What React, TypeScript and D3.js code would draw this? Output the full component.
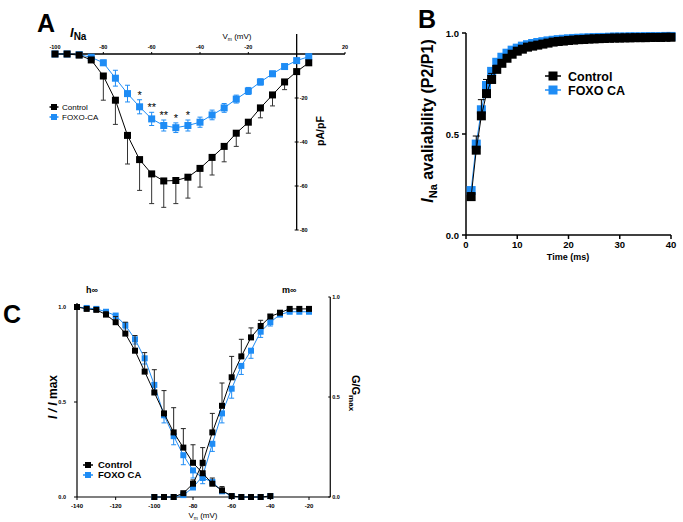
import React from "react";
import * as d3 from "d3";

const FONT = "'Liberation Sans', Arial, Helvetica, sans-serif";
const BLUE = "#1e8cf5";

// ---------- Panel A: I-V relationship ----------
const voltA = [-100, -95, -90, -85, -80, -75, -70, -65, -60, -55, -50, -45, -40, -35, -30, -25, -20, -15, -10, -5, 0, 5];
const ctrlA = [0, 0, -0.5, -2.7, -10, -21, -37, -48, -54.5, -57.7, -57.5, -56, -52, -47, -42, -36, -31, -24.5, -18.6, -12.7, -8, -4];
const ctrlAErr = [0, 0, 0.3, 0.5, 11, 11, 13, 14, 13.5, 12, 10.5, 9.5, 8.5, 8, 7, 6, 5, 4.5, 5, 3.5, 1, 0.5];
const foxoA = [0, 0, -0.3, -1.5, -4, -11, -18, -24, -29.5, -32.5, -33.5, -32.5, -31, -27.7, -24.5, -20.5, -16.8, -12.7, -9, -5.7, -3, -1.2];
const foxoAErr = [0, 0, 0.2, 0.5, 1.2, 3.6, 3.8, 3.2, 3, 2.5, 2.2, 2.5, 2.3, 2.2, 2, 1.8, 1.6, 1.4, 1.2, 1, 0.8, 0.5];
const starVolts = [-65, -60, -55, -50, -45];
const starText = ["*", "**", "**", "*", "*"];
const xTicksA = [-100, -80, -60, -40, -20, 20];
const yTicksA = [-20, -40, -60, -80];

// ---------- Panel B: recovery from inactivation ----------
const timeB = [1, 2, 3, 4, 5, 6, 7, 8, 9, 10, 11, 12, 13, 14, 15, 16, 17, 18, 19, 20, 21, 22, 23, 24, 25, 26, 27, 28, 29, 30, 31, 32, 33, 34, 35, 36, 37, 38, 39, 40];
const ctrlB = [0.19, 0.42, 0.59, 0.70, 0.77, 0.82, 0.85, 0.875, 0.895, 0.91, 0.92, 0.93, 0.935, 0.94, 0.945, 0.95, 0.955, 0.958, 0.96, 0.963, 0.965, 0.967, 0.968, 0.97, 0.971, 0.972, 0.973, 0.974, 0.975, 0.975, 0.976, 0.976, 0.977, 0.977, 0.977, 0.978, 0.978, 0.978, 0.979, 0.979];
const ctrlBErr = [0.02, 0.07, 0.08, 0.07, 0.03, 0.02, 0.015, 0.01, 0.01, 0.01, 0.01, 0.01, 0.01, 0.01, 0.01, 0.01, 0.01, 0.01, 0.01, 0.01, 0.01, 0.01, 0.01, 0.01, 0.01, 0.01, 0.01, 0.01, 0.01, 0.01, 0.01, 0.01, 0.01, 0.01, 0.01, 0.01, 0.01, 0.01, 0.01, 0.01];
const foxoB = [0.22, 0.45, 0.62, 0.74, 0.81, 0.855, 0.88, 0.90, 0.915, 0.925, 0.935, 0.942, 0.948, 0.953, 0.957, 0.961, 0.964, 0.967, 0.969, 0.971, 0.973, 0.974, 0.975, 0.976, 0.977, 0.978, 0.978, 0.979, 0.98, 0.98, 0.98, 0.981, 0.981, 0.981, 0.982, 0.982, 0.982, 0.982, 0.983, 0.983];
const foxoBErr = [0.03, 0.03, 0.03, 0.02, 0.02, 0.01, 0.01, 0.01, 0.01, 0.01, 0.01, 0.01, 0.01, 0.01, 0.01, 0.01, 0.01, 0.01, 0.01, 0.01, 0.01, 0.01, 0.01, 0.01, 0.01, 0.01, 0.01, 0.01, 0.01, 0.01, 0.01, 0.01, 0.01, 0.01, 0.01, 0.01, 0.01, 0.01, 0.01, 0.01];
const xTicksB = [0, 10, 20, 30, 40];
const yTicksB = [0, 0.5, 1.0];

// ---------- Panel C: steady-state inactivation / activation ----------
const voltH = [-140, -135, -130, -125, -120, -115, -110, -105, -100, -95, -90, -85, -80, -75, -70, -65, -60, -55, -50, -45, -40];
const ctrlH = [1.0, 0.99, 0.985, 0.96, 0.92, 0.86, 0.77, 0.66, 0.55, 0.44, 0.34, 0.26, 0.18, 0.125, 0.07, 0.035, 0.005, 0, 0, 0, 0.005];
const ctrlHErr = [0, 0, 0.005, 0.015, 0.03, 0.06, 0.08, 0.1, 0.12, 0.12, 0.13, 0.1, 0.095, 0.04, 0.03, 0.02, 0.005, 0, 0, 0, 0];
const foxoH = [1.0, 0.995, 0.99, 0.975, 0.955, 0.905, 0.83, 0.73, 0.59, 0.43, 0.32, 0.22, 0.14, 0.10, 0.08, 0.03, 0.005, 0, 0, 0, 0.005];
const foxoHErr = [0, 0, 0.005, 0.01, 0.015, 0.02, 0.025, 0.03, 0.035, 0.04, 0.045, 0.05, 0.04, 0.03, 0.02, 0.01, 0.005, 0, 0, 0, 0];
const voltM = [-100, -95, -90, -85, -80, -75, -70, -65, -60, -55, -50, -45, -40, -35, -30, -25, -20];
const ctrlM = [0, 0, 0, 0.02, 0.07, 0.18, 0.34, 0.48, 0.63, 0.74, 0.84, 0.90, 0.95, 0.97, 0.99, 0.99, 0.99];
const ctrlMErr = [0, 0, 0, 0.005, 0.02, 0.08, 0.1, 0.12, 0.11, 0.09, 0.05, 0.03, 0.01, 0.005, 0, 0, 0];
const foxoM = [0, 0, 0, 0.01, 0.05, 0.11, 0.28, 0.44, 0.57, 0.69, 0.77, 0.87, 0.92, 0.96, 0.975, 0.975, 0.975];
const foxoMErr = [0, 0, 0, 0, 0.01, 0.02, 0.04, 0.05, 0.05, 0.045, 0.04, 0.03, 0.02, 0.01, 0.005, 0, 0];
const xTicksC = [-140, -120, -100, -80, -60, -40, -20];
const yTicksC = [0, 0.5, 1.0];

type Scale = (v: number) => number;

function Series(props: {
  xs: number[]; ys: number[]; errs: number[]; dir: "up" | "down" | "both";
  x: Scale; y: Scale; color: string; size: number; lw?: number; errColor?: string; cap?: number;
}) {
  const { xs, ys, errs, dir, x, y, color, size, lw = 1, errColor, cap = 3 } = props;
  const line = d3.line<number>().x((_, i) => x(xs[i])).y((d) => y(d));
  const ec = errColor || color;
  return (
    <g>
      {ys.map((v, i) => {
        const e = errs[i];
        if (!e) return null;
        const cx = x(xs[i]);
        const segs: [number, number][] = [];
        if (dir === "up" || dir === "both") segs.push([y(v), y(v + e)]);
        if (dir === "down" || dir === "both") segs.push([y(v), y(v - e)]);
        return (
          <g key={"e" + i} stroke={ec} strokeWidth={1}>
            {segs.map((s, j) => (
              <g key={j}>
                <line x1={cx} x2={cx} y1={s[0]} y2={s[1]} />
                <line x1={cx - cap} x2={cx + cap} y1={s[1]} y2={s[1]} />
              </g>
            ))}
          </g>
        );
      })}
      <path d={line(ys) || ""} fill="none" stroke={color} strokeWidth={lw} />
      {ys.map((v, i) => (
        <rect key={"m" + i} x={x(xs[i]) - size / 2} y={y(v) - size / 2} width={size} height={size} fill={color} />
      ))}
    </g>
  );
}

function LegendItem(props: { x: number; y: number; color: string; size: number; half: number; label: string; fs: number; tx: number; bold?: boolean }) {
  const { x, y, color, size, half, label, fs, tx, bold } = props;
  return (
    <g>
      <line x1={x - half} x2={x + half} y1={y} y2={y} stroke={color} strokeWidth={1.5} />
      <rect x={x - size / 2} y={y - size / 2} width={size} height={size} fill={color} />
      <text x={tx} y={y + fs * 0.36} fontSize={fs} fontWeight={bold ? "bold" : "normal"} fill="#000">{label}</text>
    </g>
  );
}

export default function App() {
  // Panel A scales
  const xA = d3.scaleLinear().domain([-100, 20]).range([55, 345]);
  const yA = d3.scaleLinear().domain([0, -80]).range([54, 230]);
  // Panel B scales
  const xB = d3.scaleLinear().domain([0, 40]).range([466, 671]);
  const yB = d3.scaleLinear().domain([0, 1]).range([235, 33]);
  // Panel C scales
  const xC = d3.scaleLinear().domain([-140, -20]).range([77, 309]);
  const yC = d3.scaleLinear().domain([0, 1]).range([497, 307]);
  const yCR = d3.scaleLinear().domain([0, 1]).range([497, 297]);
  const rightAxisX = xC(-9);

  return (
    <svg width={683} height={522} style={{ position: "absolute", left: 0, top: 0, background: "#fff" }} fontFamily={FONT}>
      <rect width={683} height={522} fill="#fff" />

      {/* ================= Panel A ================= */}
      <text x={37} y={32} fontSize={25} fontWeight="bold">A</text>
      <text x={70} y={37} fontSize={13} fontWeight="bold">
        <tspan fontStyle="italic">I</tspan>
        <tspan fontSize={10} dy={3}>Na</tspan>
      </text>
      <line x1={xA(-100)} x2={xA(20)} y1={yA(0)} y2={yA(0)} stroke="#000" strokeWidth={1.3} />
      <line x1={xA(0)} x2={xA(0)} y1={yA(0) - 20} y2={yA(-80)} stroke="#000" strokeWidth={1.3} />
      {xTicksA.map((t) => (
        <g key={t}>
          <line x1={xA(t)} x2={xA(t)} y1={yA(0)} y2={yA(0) - 2} stroke="#000" />
          <text x={xA(t)} y={yA(0) - 5} fontSize={5.5} fontWeight="bold" textAnchor="middle">{t}</text>
        </g>
      ))}
      {yTicksA.map((t) => (
        <g key={t}>
          <line x1={xA(0) - 2} x2={xA(0) + 2} y1={yA(t)} y2={yA(t)} stroke="#000" />
          <text x={xA(0) + 3} y={yA(t) + 2} fontSize={5.5} fontWeight="bold">{t}</text>
        </g>
      ))}
      <text x={237} y={39} fontSize={8} textAnchor="middle">
        V<tspan fontSize={5} dy={1.5}>m</tspan><tspan dy={-1.5}> (mV)</tspan>
      </text>
      <text transform={`translate(324,131) rotate(-90)`} fontSize={10.5} fontWeight="bold" textAnchor="middle">pA/pF</text>

      <Series xs={voltA} ys={foxoA} errs={foxoAErr} dir="both" x={xA} y={yA} color={BLUE} size={7} cap={2.5} />
      <Series xs={voltA} ys={ctrlA} errs={ctrlAErr} dir="down" x={xA} y={yA} color="#000" size={7} cap={2.5} errColor="#333" />
      {starVolts.map((v, i) => {
        const k = voltA.indexOf(v);
        return (
          <text key={v} x={xA(v)} y={yA(foxoA[k] + foxoAErr[k]) - 1} fontSize={11} textAnchor="middle">{starText[i]}</text>
        );
      })}
      <LegendItem x={54} y={107} color="#000" size={6} half={4.5} label="Control" fs={8} tx={62} />
      <LegendItem x={54} y={117} color={BLUE} size={6} half={4.5} label="FOXO-CA" fs={8} tx={62} />

      {/* ================= Panel B ================= */}
      <text x={418} y={28} fontSize={25} fontWeight="bold">B</text>
      <line x1={xB(0)} x2={xB(0)} y1={yB(1)} y2={yB(0)} stroke="#000" strokeWidth={1.5} />
      <line x1={xB(0)} x2={xB(40)} y1={yB(0)} y2={yB(0)} stroke="#000" strokeWidth={1.5} />
      {yTicksB.map((t) => (
        <g key={t}>
          <line x1={xB(0) - 4} x2={xB(0)} y1={yB(t)} y2={yB(t)} stroke="#000" strokeWidth={1.5} />
          <text x={xB(0) - 7} y={yB(t) + 3.5} fontSize={9.5} fontWeight="bold" textAnchor="end">{t.toFixed(1)}</text>
        </g>
      ))}
      {xTicksB.map((t) => (
        <g key={t}>
          <line x1={xB(t)} x2={xB(t)} y1={yB(0)} y2={yB(0) + 4} stroke="#000" strokeWidth={1.5} />
          <text x={xB(t)} y={yB(0) + 13} fontSize={9.5} fontWeight="bold" textAnchor="middle">{t}</text>
        </g>
      ))}
      <text x={568} y={260} fontSize={9} fontWeight="bold" textAnchor="middle">Time (ms)</text>
      <text transform={`translate(433,121) rotate(-90)`} fontSize={16} fontWeight="bold" textAnchor="middle">
        <tspan fontStyle="italic">I</tspan>
        <tspan fontSize={11} dy={4}>Na</tspan>
        <tspan dy={-4}> avaliability (P2/P1)</tspan>
      </text>
      <Series xs={timeB} ys={foxoB} errs={foxoBErr} dir="down" x={xB} y={yB} color={BLUE} size={9} cap={3.5} />
      <Series xs={timeB} ys={ctrlB} errs={ctrlBErr} dir="up" x={xB} y={yB} color="#000" size={9} cap={3.5} lw={1} />
      <LegendItem x={553} y={76} color="#000" size={9} half={8} label="Control" fs={12.5} tx={568} bold />
      <LegendItem x={553} y={90} color={BLUE} size={9} half={8} label="FOXO CA" fs={12.5} tx={568} bold />

      {/* ================= Panel C ================= */}
      <text x={3} y={323} fontSize={25} fontWeight="bold">C</text>
      <line x1={xC(-140)} x2={xC(-140)} y1={yC(1) - 4} y2={yC(0)} stroke="#000" strokeWidth={1.2} />
      <line x1={xC(-140)} x2={rightAxisX} y1={yC(0)} y2={yC(0)} stroke="#000" strokeWidth={1.2} />
      <line x1={rightAxisX} x2={rightAxisX} y1={yCR(1)} y2={yCR(0)} stroke="#000" strokeWidth={1.2} />
      {yTicksC.map((t) => (
        <g key={"l" + t}>
          <line x1={xC(-140) - 3} x2={xC(-140)} y1={yC(t)} y2={yC(t)} stroke="#000" />
          <text x={xC(-140) - 11} y={yC(t) + 2} fontSize={5.5} fontWeight="bold" textAnchor="end">{t.toFixed(1)}</text>
        </g>
      ))}
      {yTicksC.map((t) => (
        <g key={"r" + t}>
          <line x1={rightAxisX - 2} x2={rightAxisX} y1={yCR(t)} y2={yCR(t)} stroke="#000" />
          <text x={rightAxisX + 2} y={yCR(t) + 2} fontSize={5.5} fontWeight="bold">{t.toFixed(1)}</text>
        </g>
      ))}
      {xTicksC.map((t) => (
        <g key={t}>
          <line x1={xC(t)} x2={xC(t)} y1={yC(0)} y2={yC(0) + 3} stroke="#000" />
          <text x={xC(t)} y={yC(0) + 11} fontSize={6} fontWeight="bold" textAnchor="middle">{t}</text>
        </g>
      ))}
      <text x={203} y={518} fontSize={8} textAnchor="middle">
        V<tspan fontSize={5} dy={1.5}>m</tspan><tspan dy={-1.5}> (mV)</tspan>
      </text>
      <text x={86} y={293} fontSize={9} fontWeight="bold">h∞</text>
      <text x={282} y={293} fontSize={9} fontWeight="bold">m∞</text>
      <text transform={`translate(57,397) rotate(-90)`} fontSize={12} fontWeight="bold" textAnchor="middle">
        <tspan fontStyle="italic">I / I</tspan><tspan> max</tspan>
      </text>
      <text transform={`translate(352,393) rotate(90)`} fontSize={11} fontWeight="bold" textAnchor="middle">
        G/G<tspan fontSize={8} dy={3}>max</tspan>
      </text>

      <Series xs={voltH} ys={foxoH} errs={foxoHErr} dir="down" x={xC} y={yC} color={BLUE} size={6} cap={2.5} />
      <Series xs={voltM} ys={foxoM} errs={foxoMErr} dir="down" x={xC} y={yC} color={BLUE} size={6} cap={2.5} />
      <Series xs={voltH} ys={ctrlH} errs={ctrlHErr} dir="up" x={xC} y={yC} color="#000" size={6} cap={2.5} errColor="#222" />
      <Series xs={voltM} ys={ctrlM} errs={ctrlMErr} dir="up" x={xC} y={yC} color="#000" size={6} cap={2.5} errColor="#222" />
      <LegendItem x={88} y={465} color="#000" size={6} half={5} label="Control" fs={9.5} tx={98} bold />
      <LegendItem x={88} y={475} color={BLUE} size={6} half={5} label="FOXO CA" fs={9.5} tx={98} bold />
    </svg>
  );
}
